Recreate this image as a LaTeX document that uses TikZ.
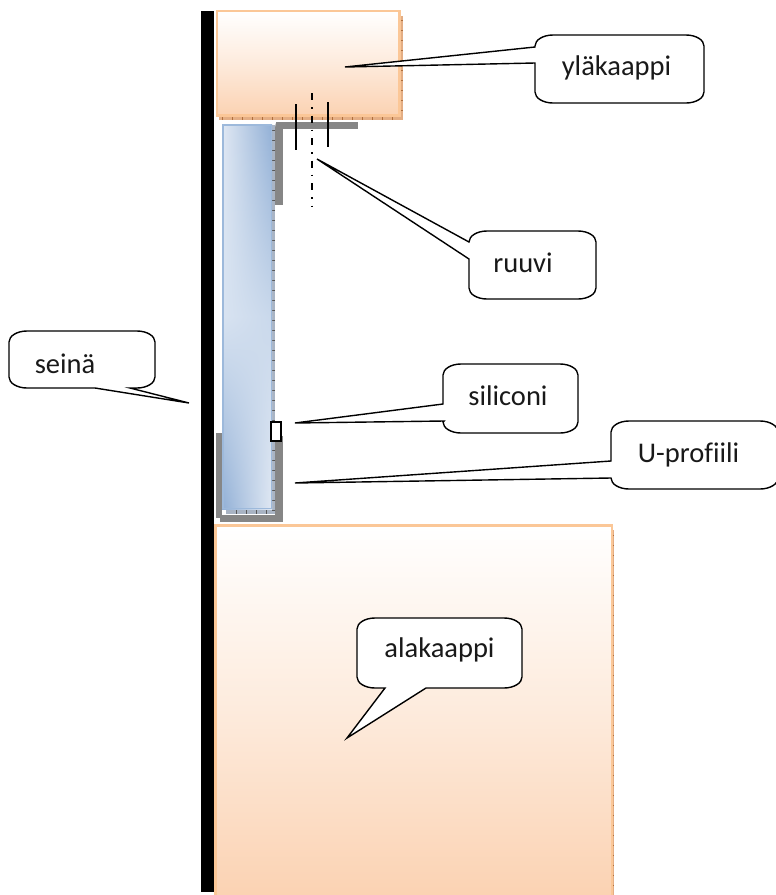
\documentclass[tikz,border=0pt]{standalone}
\usepackage{fontspec}
\usetikzlibrary{shadings}
\setmainfont[Ligatures=NoCommon]{Carlito}
\definecolor{cabedge}{HTML}{FBC797}
\definecolor{cabfill}{HTML}{FBD2B2}
\definecolor{cabshadow}{HTML}{E4AE84}
\definecolor{cabtick}{HTML}{B0703C}
\definecolor{glassedge}{HTML}{9DB9DB}
\definecolor{glasslight}{HTML}{E0E8F3}
\definecolor{glassdark}{HTML}{92B0D6}
\definecolor{glassmidl}{HTML}{D8E3F1}
\definecolor{glassmidr}{HTML}{C9D8EB}
\definecolor{glassshadow}{HTML}{A9B4C4}
\definecolor{profile}{HTML}{868686}
\tikzset{
  cabinet/.style={draw=cabedge,line width=2.4pt,top color=white,bottom color=cabfill,middle color=cabfill!45},
  profilebar/.style={fill=profile,draw=none},
  bubble/.style={draw=black,line width=1.4pt,fill=white,line join=miter},
  label/.style={font=\fontsize{28.5}{32}\selectfont,text=black!90,anchor=base,inner sep=0pt},
  screwline/.style={draw=black,line width=1.4pt},
  axisline/.style={draw=black,line width=1.4pt,dash pattern=on 7pt off 7pt on 1.5pt off 7pt},
  cabticks/.style={draw=cabtick,line width=.5pt},
  glassticks/.style={draw=black!65,line width=.5pt}
}
% x1 y1 x2 y2, bottom-side tail, left-side tail
\newcommand{\speechbox}[6]{%
  \draw[bubble] ({#1+18},#2) -- ({#3-18},#2)
    .. controls ({#3-8},#2) and (#3,{#2+5}) .. (#3,{#2+11})
    -- (#3,{#4-11})
    .. controls (#3,{#4-5}) and ({#3-8},#4) .. ({#3-18},#4)
    #5 -- ({#1+18},#4)
    .. controls ({#1+8},#4) and (#1,{#4-5}) .. (#1,{#4-11})
    #6 -- (#1,{#2+11})
    .. controls (#1,{#2+5}) and ({#1+8},#2) .. ({#1+18},#2) -- cycle;}
\begin{document}
\begin{tikzpicture}[x=1pt,y=-1pt]
\useasboundingbox (0,0) rectangle (776,895);
% wall
\fill[black] (201,11) rectangle (214,892);
% upper cabinet shadow with ticks
\fill[cabshadow] (219,16) rectangle (403,120);
\foreach \t in {222,232,...,400}{\draw[cabticks] (\t,116.5) -- (\t,120);}
\foreach \t in {20,30,...,115}{\draw[cabticks] (401,\t) -- (403,\t);}
\draw[cabinet] (217.2,11.2) rectangle (399.6,115.6);
% lower cabinet
\fill[cabshadow] (219,530) rectangle (614,895);
\foreach \t in {535,545,...,895}{\draw[cabticks] (612.5,\t) -- (614,\t);}
\draw[cabinet] (215.5,525.5) rectangle (612,898);
% top bracket
\fill[profilebar] (276,122) rectangle (357.5,129);
\fill[profilebar] (275,122) rectangle (283,205);
\fill[white] (272,122) -- (276,122) -- (275,127) -- (272,127) -- cycle;
% U profile
\fill[profilebar] (216,433) rectangle (222,518);
\fill[profilebar] (220,514) rectangle (279,522);
\fill[profilebar] (216,510) rectangle (283,518);
\fill[profilebar] (275,436) rectangle (283,522);
\fill[white] (222,509) rectangle (275,514.5);
% glass
\fill[glassshadow] (272,125) rectangle (275,514);
\fill[glassshadow] (226,509) rectangle (275,514);
\foreach \t in {130,140,...,510}{\draw[glassticks] (272,\t) -- (275,\t);}
\foreach \t in {236,246,...,275}{\draw[glassticks] (\t,510) -- (\t,514);}
\shade[upper left=glasslight,upper right=glassdark,lower left=glassmidl,lower right=glassmidr]
  (222,124) rectangle (272,316.5);
\shade[upper left=glassmidl,upper right=glassmidr,lower left=glassdark,lower right=glasslight]
  (222,316.5) rectangle (272,509);
\draw[glassedge,line width=1.6pt] (222.8,124.8) rectangle (271.5,508.5);
% silicone
\draw[black,line width=2pt,fill=white] (271,421.5) rectangle (281,440.5);
% screw lines
\coordinate (screwAtop) at (296,104);
\coordinate (screwAbot) at (296,150);
\coordinate (screwBtop) at (328,102);
\coordinate (screwBbot) at (328,147);
\coordinate (axisTop) at (312,93);
\coordinate (axisBot) at (312,207);
\draw[screwline] (screwAtop) -- (screwAbot);
\draw[screwline] (screwBtop) -- (screwBbot);
\draw[axisline] (axisTop) -- (axisBot);
% callouts
\speechbox{535}{35}{704}{103}{}{-- (535,63) -- (345,67) -- (535,47)}
\speechbox{469}{231}{596}{299}{}{-- (469,259) -- (317,159) -- (469,242)}
\speechbox{9}{331}{155}{388}{-- (130,388) -- (189,403) -- (95,388)}{}
\speechbox{443}{364}{578}{433}{}{-- (444,421) -- (295,423) -- (443,404)}
\speechbox{611}{421}{778}{489}{}{-- (611,478) -- (295,483) -- (611,461)}
\speechbox{357}{618}{522}{688}{-- (426,688) -- (347,738) -- (385,688)}{}
% labels
\node[label] (yla) at (616.5,75) {yläkaappi};
\node[label] (ruuvi) at (523,272.5) {ruuvi};
\node[label] (seina) at (65,373) {seinä};
\node[label] (sili) at (508,405) {siliconi};
\node[label] (uprof) at (688.5,462) {U-profiili};
\node[label] (ala) at (439.5,657.5) {alakaappi};
\end{tikzpicture}
\end{document}
